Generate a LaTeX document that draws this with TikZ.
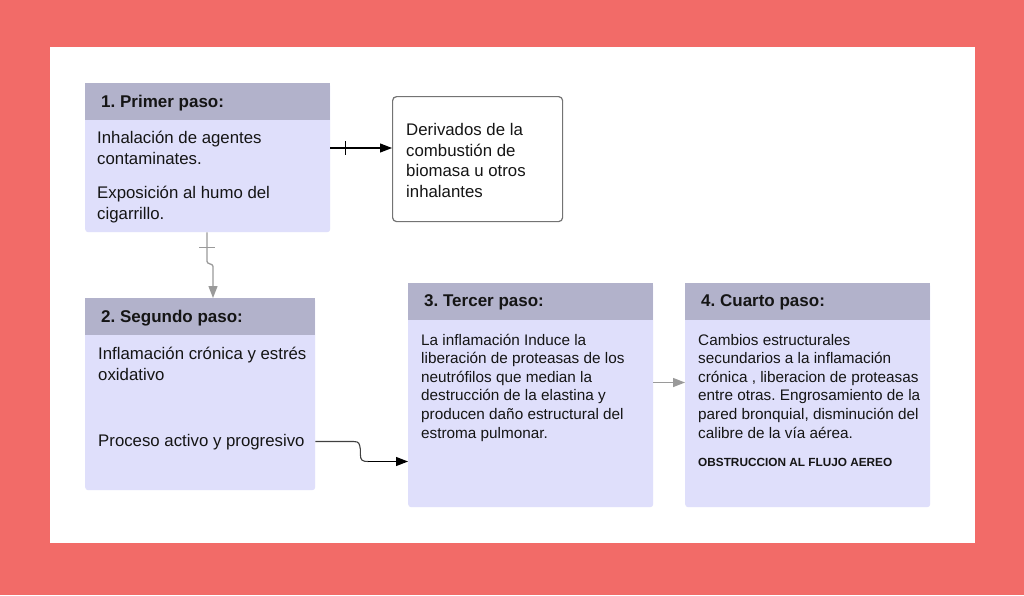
\documentclass[tikz,border=0pt]{standalone}
\usepackage{fontspec}
\setmainfont{Liberation Sans}
\usetikzlibrary{arrows.meta,calc}
\frenchspacing
\definecolor{coral}{HTML}{F26B68}
\definecolor{hdr}{HTML}{B2B2CB}
\definecolor{bodyc}{HTML}{DFDFFB}
\definecolor{ink}{HTML}{151515}
\definecolor{gline}{HTML}{9A9A9A}
\tikzset{
  bodybox/.style={fill=bodyc, draw=none, rounded corners=3pt, anchor=north west, inner sep=0pt},
  hdrbox/.style={fill=hdr, draw=none, anchor=north west, inner sep=0pt},
  hdrtext/.style={anchor=base west, inner sep=0pt, text=ink, font=\frenchspacing\bfseries\fontsize{17}{20}\selectfont},
  txt/.style={anchor=base west, inner sep=0pt, align=left, text=ink, font=\frenchspacing\fontsize{16.8}{20.6}\selectfont},
  smalltxt/.style={anchor=base west, inner sep=0pt, align=left, text=ink, font=\frenchspacing\fontsize{15.3}{18.6}\selectfont},
  tinybold/.style={anchor=base west, inner sep=0pt, text=ink, font=\bfseries\fontsize{11.8}{14}\selectfont},
  arr/.style={-{Triangle[length=12pt,width=9pt]}, line width=1.1pt},
}
\begin{document}
\begin{tikzpicture}[x=1pt,y=-1pt]
\useasboundingbox (0,0) rectangle (1024,595);
\fill[coral] (0,0) rectangle (1024,595);
\fill[white] (50,47) rectangle (975,543);

% Box 1
\node[bodybox, minimum width=245pt, minimum height=149pt] (b1) at (85,83) {};
\node[hdrbox, minimum width=245pt, minimum height=37pt] (h1) at (85,83) {};
\node[hdrtext] (h1t) at (101,107) {1. Primer paso:};
\node[txt] (t1a) at (97,164.1) {Inhalación de agentes\\contaminates.};
\node[txt] (t1b) at (97,219.1) {Exposición al humo del\\cigarrillo.};

% Derivados box
\node[draw=black!55, line width=1.2pt, fill=white, rounded corners=4pt, anchor=north west, inner sep=0pt,
      minimum width=170pt, minimum height=125pt] (d) at (392,96) {};
\node[txt] (dt) at (406,197.3) {Derivados de la\\combustión de\\biomasa u otros\\inhalantes};

% Box 2
\node[bodybox, minimum width=230pt, minimum height=192pt] (b2) at (85,298) {};
\node[hdrbox, minimum width=230pt, minimum height=37pt] (h2) at (85,298) {};
\node[hdrtext] (h2t) at (101,322) {2. Segundo paso:};
\node[txt] (t2a) at (98,380.1) {Inflamación crónica y estrés\\oxidativo};
\node[txt] (t2b) at (98,446.5) {Proceso activo y progresivo};

% Box 3
\node[bodybox, minimum width=245pt, minimum height=224pt] (b3) at (408,283) {};
\node[hdrbox, minimum width=245pt, minimum height=37pt] (h3) at (408,283) {};
\node[hdrtext] (h3t) at (424,306) {3. Tercer paso:};
\node[smalltxt] (t3) at (421,438) {La inflamación Induce la\\liberación de proteasas de los\\neutrófilos que median la\\destrucción de la elastina y\\producen daño estructural del\\estroma pulmonar.};

% Box 4
\node[bodybox, minimum width=245pt, minimum height=224pt] (b4) at (685,283) {};
\node[hdrbox, minimum width=245pt, minimum height=37pt] (h4) at (685,283) {};
\node[hdrtext] (h4t) at (701,306) {4. Cuarto paso:};
\node[smalltxt] (t4) at (698,438) {Cambios estructurales\\secundarios a la inflamación\\crónica , liberacion de proteasas\\entre otras. Engrosamiento de la\\pared bronquial, disminución del\\calibre de la vía aérea.};
\node[tinybold] (t4b) at (698,466) {OBSTRUCCION AL FLUJO AEREO};

% Connector 1 -> Derivados
\draw[arr, black] ($(b1.north east)+(0,65)$) coordinate (c1s) -- (c1s -| d.west);
\draw[black, line width=1.1pt] ($(c1s)+(15,-7)$) -- ++(0,14);

% Connector 1 -> 2
\coordinate (c2s) at ($(b1.south west)+(122,0)$);
\coordinate (c2e) at ($(b2.north west)+(128,0)$);
\draw[arr, gline, line width=1.3pt] (c2s) -- ++(0,29) coordinate (j1)
   .. controls ($(j1)+(0,3)$) and ($(j1)+(6,2)$) .. ($(j1)+(6,5)$) -- (c2e);
\draw[gline, line width=1.3pt] ($(c2s)+(-8,15)$) -- ++(16,0);

% Connector 2 -> 3
\coordinate (c3s) at ($(b2.north east)+(0,143.5)$);
\coordinate (c3e) at ($(b3.north west)+(0,178.5)$);
\draw[line width=1.1pt, black!75] (c3s) -- ++(38,0) coordinate (k1)
   .. controls ($(k1)+(6,0)$) and ($(k1)+(6,2)$) .. ($(k1)+(7,8)$)
   -- ($(k1)+(7,13)$)
   .. controls ($(k1)+(7,19)$) and ($(k1)+(9,20)$) .. ($(k1)+(15,20)$) coordinate (k2);
\draw[arr, black, line width=1.1pt] (k2) -- (c3e);

% Connector 3 -> 4
\draw[arr, gline, line width=1.3pt] ($(b3.north east)+(0,99.5)$) coordinate (c4s) -- (c4s -| b4.west);
\end{tikzpicture}
\end{document}
